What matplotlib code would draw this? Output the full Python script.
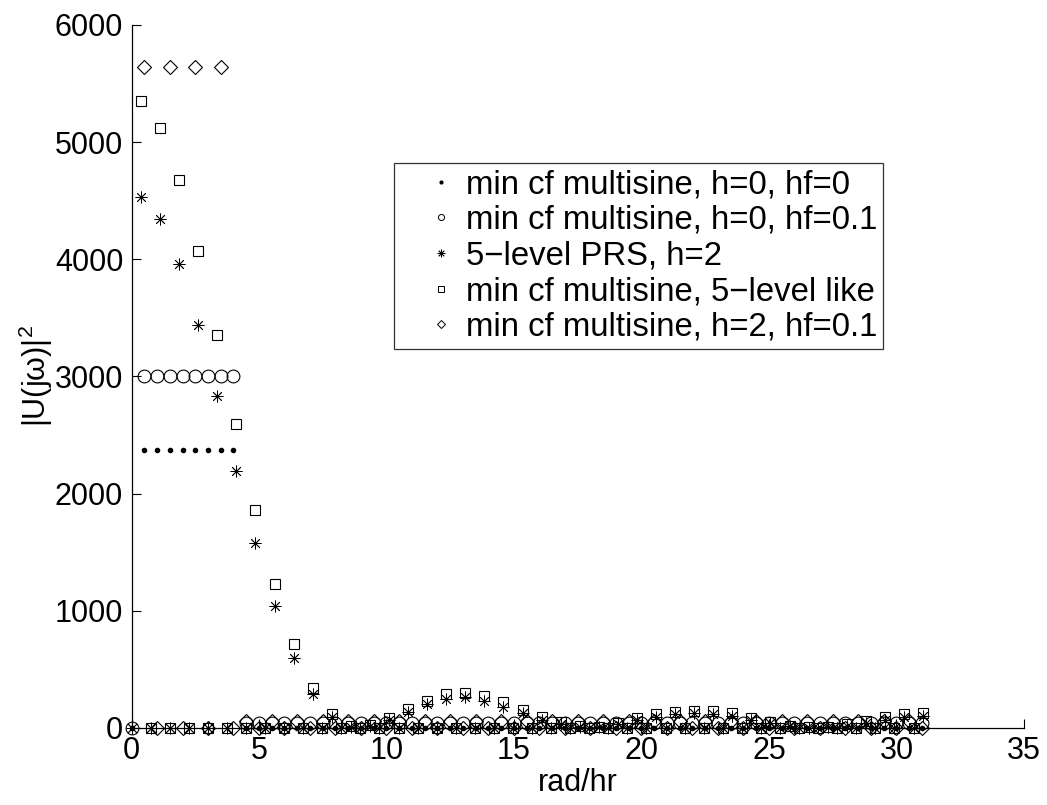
import numpy as np
import matplotlib
matplotlib.use('Agg')
import matplotlib.pyplot as plt
from matplotlib.lines import Line2D

plt.rcParams['font.family'] = ['Liberation Sans', 'DejaVu Sans']
plt.rcParams['mathtext.fontset'] = 'custom'
plt.rcParams['mathtext.rm'] = 'Liberation Sans'
plt.rcParams['mathtext.it'] = 'Liberation Sans'

# fundamentals (rad/hr)
w_ms = 0.5                 # min cf multisines
w_prs = 2 * np.pi / 16.8   # 5-level PRS, 24 switches x 0.7 hr

# |U(jw)|^2 on the multisine grid, k = 0..62
ms_h0_hf0 = [0,
             2375, 2375, 2375, 2375, 2375, 2375, 2375, 2375,
             0, 0, 0, 0, 0, 0, 0, 0, 0, 0, 0, 0, 0, 0, 0, 0, 0, 0,
             0, 0, 0, 0, 0, 0, 0, 0, 0, 0, 0, 0, 0, 0, 0, 0, 0, 0,
             0, 0, 0, 0, 0, 0, 0, 0, 0, 0, 0, 0, 0, 0, 0, 0, 0, 0]
ms_h0_hf01 = [0,
              3000, 3000, 3000, 3000, 3000, 3000, 3000, 3000,
              45, 45, 45, 45, 45, 45, 45, 45, 45, 45, 45, 45, 45, 45, 45, 45, 45, 45,
              45, 45, 45, 45, 45, 45, 45, 45, 45, 45, 45, 45, 45, 45, 45, 45, 45, 45,
              45, 45, 45, 45, 45, 45, 45, 45, 45, 45, 45, 45, 45, 45, 45, 45, 45, 45]
# k = 1..62
ms_h2_hf01 = [5640, 0, 5640, 0, 5640, 0, 5640, 0,
              63, 0, 63, 0, 63, 0, 63, 0, 63, 0, 63, 0, 63, 0, 63, 0, 63, 0,
              63, 0, 63, 0, 63, 0, 63, 0, 63, 0, 63, 0, 63, 0, 63, 0, 63, 0,
              63, 0, 63, 0, 63, 0, 63, 0, 63, 0, 63, 0, 63, 0, 63, 0, 63, 0]

# PRS grid, k = 0..83
prs_h2 = [0,
          4530, 0, 4340, 0, 3960, 0, 3440, 0, 2830, 0,
          2190, 0, 1580, 0, 1040, 0, 600, 0, 290, 0,
          90, 0, 10, 0, 15, 0, 70, 0, 140, 0,
          205, 0, 250, 0, 260, 0, 230, 0, 180, 0,
          125, 0, 70, 0, 35, 0, 8, 0, 5, 0,
          30, 0, 65, 0, 95, 0, 115, 0, 125, 0,
          120, 0, 100, 0, 70, 0, 40, 0, 15, 0,
          3, 0, 5, 0, 20, 0, 45, 0, 70, 0,
          90, 0, 105]
# k = 1..83
ms_5lev = [5350, 0, 5120, 0, 4680, 0, 4070, 0, 3350, 0,
           2590, 0, 1860, 0, 1230, 0, 715, 0, 345, 0,
           120, 0, 20, 0, 25, 0, 85, 0, 160, 0,
           233, 0, 288, 0, 300, 0, 275, 0, 220, 0,
           155, 0, 97, 0, 54, 0, 15, 0, 10, 0,
           45, 0, 83, 0, 120, 0, 140, 0, 148, 0,
           143, 0, 125, 0, 88, 0, 50, 0, 20, 0,
           5, 0, 8, 0, 30, 0, 62, 0, 90, 0,
           115, 0, 125]

labels = ['min cf multisine, h=0, hf=0',
          'min cf multisine, h=0, hf=0.1',
          '5\u2212level PRS, h=2',
          'min cf multisine, 5\u2212level like',
          'min cf multisine, h=2, hf=0.1']

w_a = w_ms * np.arange(len(ms_h0_hf0))
w_d = w_ms * np.arange(1, len(ms_h2_hf01) + 1)
w_p = w_prs * np.arange(len(prs_h2))
w_s = w_prs * np.arange(1, len(ms_5lev) + 1)

star = (8, 2, 0)
fig = plt.figure(figsize=(10.47, 8.05), dpi=100)
ax = fig.add_axes([0.1256, 0.0957, 0.8524, 0.8733])

kw = dict(ls='none', color='k', mfc='none', mew=0.8, clip_on=False)
ax.plot(w_a, ms_h0_hf0, marker='.', ms=6, mfc='k', ls='none', color='k', clip_on=False)
ax.plot(w_a, ms_h0_hf01, marker='o', ms=9.2, **kw)
ax.plot(w_p, prs_h2, marker=star, ms=8.5, ls='none', color='k', mew=0.6, clip_on=False)
ax.plot(w_s, ms_5lev, marker='s', ms=7, **kw)
ax.plot(w_d, ms_h2_hf01, marker='D', ms=7.1, **kw)

handles = [Line2D([], [], ls='none', color='k', marker='.', ms=4),
           Line2D([], [], ls='none', color='k', mfc='none', mew=0.7, marker='o', ms=4.4),
           Line2D([], [], ls='none', color='k', mew=0.6, marker=star, ms=5.5),
           Line2D([], [], ls='none', color='k', mfc='none', mew=0.7, marker='s', ms=4.2),
           Line2D([], [], ls='none', color='k', mfc='none', mew=0.7, marker='D', ms=3.8)]
leg = ax.legend(handles, labels, loc='upper left', bbox_to_anchor=(0.294, 0.803),
                fontsize=23.7, frameon=True, fancybox=False, borderpad=0.18,
                handlelength=2.5, handletextpad=-0.49, labelspacing=0.14,
                borderaxespad=0)
leg.get_frame().set_edgecolor('k')
leg.get_frame().set_linewidth(0.9)

ax.set_xlim(0, 35)
ax.set_ylim(0, 6000)
ax.set_xticks(range(0, 36, 5))
ax.set_yticks(range(0, 6001, 1000))
for s in ['top', 'right']:
    ax.spines[s].set_visible(False)
for s in ['left', 'bottom']:
    ax.spines[s].set_linewidth(0.9)
ax.tick_params(direction='in', length=6.5, width=0.8, labelsize=22, pad=6)
ax.set_xlabel('rad/hr', fontsize=22, labelpad=1)
ax.set_ylabel('|U(j\u03c9)|$^2$', fontsize=22, labelpad=-0.5)

fig.savefig('out.png', dpi=100)
